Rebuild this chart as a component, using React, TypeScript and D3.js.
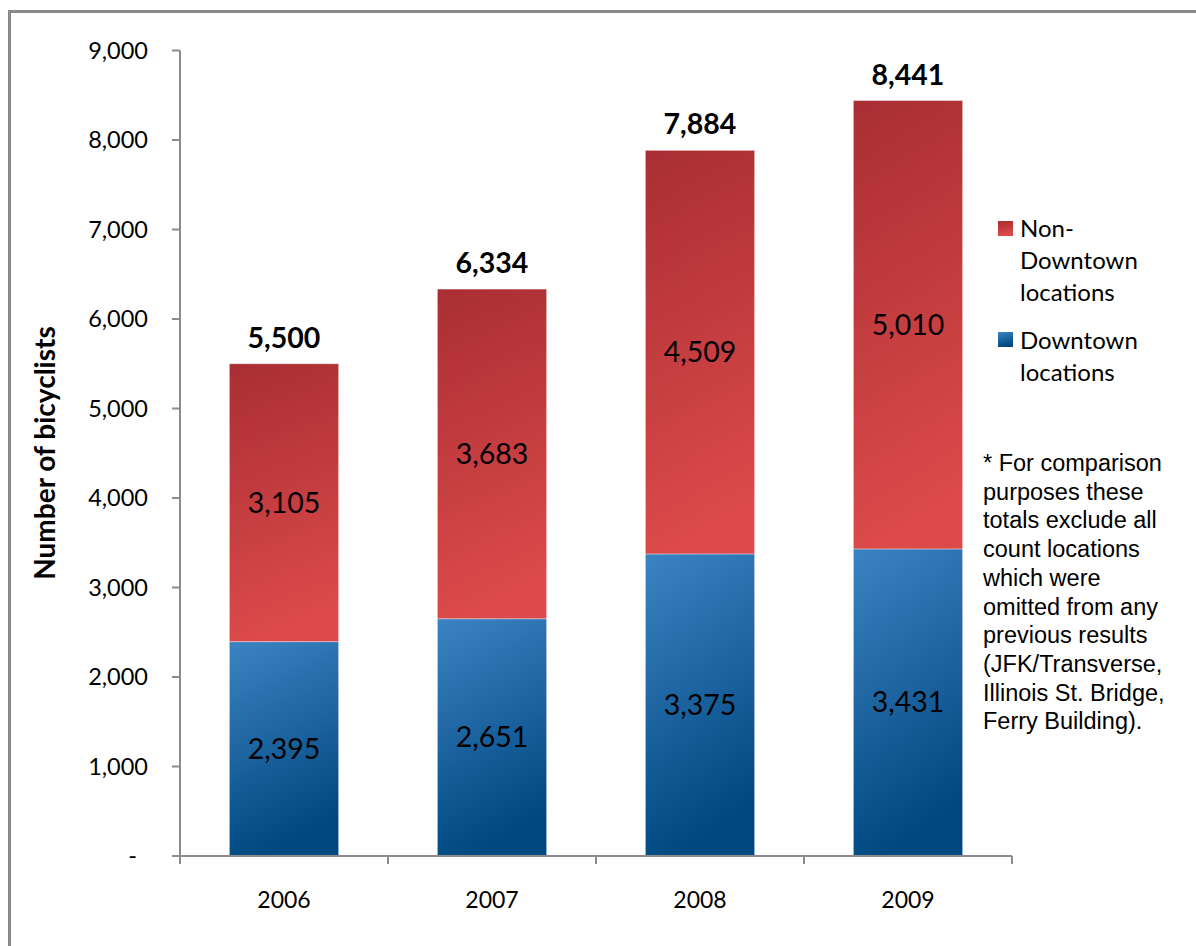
import React from "react";
import * as d3 from "d3";

const years = ["2006", "2007", "2008", "2009"];
const downtown = [2395, 2651, 3375, 3431];
const nonDowntown = [3105, 3683, 4509, 5010];
const totals = [5500, 6334, 7884, 8441];
const yTicks = [0, 1000, 2000, 3000, 4000, 5000, 6000, 7000, 8000, 9000];
const legendItems = [
  { key: "non", lines: ["Non-", "Downtown", "locations"] },
  { key: "down", lines: ["Downtown", "locations"] },
];
const noteLines = [
  "* For comparison",
  "purposes these",
  "totals exclude all",
  "count locations",
  "which were",
  "omitted from any",
  "previous results",
  "(JFK/Transverse,",
  "Illinois St. Bridge,",
  "Ferry Building).",
];

const W = 1196;
const H = 946;
const axisColor = "#8c8c8c";
const font = "Lato, 'Open Sans', sans-serif";

export default function App() {
  const x = d3.scaleBand<string>().domain(years).range([180, 1012]).paddingInner(0.475).paddingOuter(0.2375);
  const y = d3.scaleLinear().domain([0, 9000]).range([856, 50.5]);
  const fmt = d3.format(",");
  const bw = x.bandwidth();

  return (
    <svg width={W} height={H} style={{ position: "absolute", left: 0, top: 0, background: "#fff" }}>
      <defs>
        <linearGradient id="redGrad" x1="0" y1="0" x2="0.15" y2="1">
          <stop offset="0" stopColor="#a92e33" />
          <stop offset="1" stopColor="#dc4a4b" />
        </linearGradient>
        <linearGradient id="blueGrad" x1="0" y1="0" x2="0.25" y2="1">
          <stop offset="0" stopColor="#3c83c3" />
          <stop offset="1" stopColor="#004880" />
        </linearGradient>
      </defs>
      <rect x={9.5} y={11.5} width={W + 20} height={H + 20} fill="none" stroke="#8a8a8a" strokeWidth={3} />

      {/* y axis */}
      <line x1={180} x2={180} y1={y(9000)} y2={y(0)} stroke={axisColor} strokeWidth={2} />
      {yTicks.map((t) => (
        <g key={t}>
          <line x1={172} x2={180} y1={y(t)} y2={y(t)} stroke={axisColor} strokeWidth={2} />
          <text
            x={t === 0 ? 137 : 148}
            y={y(t)}
            dy="0.35em"
            textAnchor="end"
            fontFamily={font}
            fontSize={23.5}
            fill="#000"
          >
            {t === 0 ? "-" : fmt(t)}
          </text>
        </g>
      ))}
      <text
        transform={`translate(55, ${453}) rotate(-90)`}
        textAnchor="middle"
        fontFamily={font}
        fontWeight="bold"
        fontSize={28}
        fill="#000"
      >
        Number of bicyclists
      </text>

      {/* bars */}
      {years.map((yr, i) => {
        const x0 = x(yr)!;
        const cx = x0 + bw / 2;
        const d = downtown[i];
        const n = nonDowntown[i];
        return (
          <g key={yr}>
            <rect x={x0} y={y(d)} width={bw} height={y(0) - y(d)} fill="url(#blueGrad)" stroke="rgba(255,255,255,0.35)" strokeWidth={1} />
            <rect x={x0} y={y(d + n)} width={bw} height={y(d) - y(d + n)} fill="url(#redGrad)" stroke="rgba(255,255,255,0.35)" strokeWidth={1} />
            <text x={cx} y={(y(0) + y(d)) / 2} dy="0.35em" textAnchor="middle" fontFamily={font} fontSize={28.5} fill="#000">
              {fmt(d)}
            </text>
            <text x={cx} y={(y(d) + y(d + n)) / 2} dy="0.35em" textAnchor="middle" fontFamily={font} fontSize={28.5} fill="#000">
              {fmt(n)}
            </text>
            <text x={cx} y={y(totals[i]) - 16} textAnchor="middle" fontFamily={font} fontWeight="bold" fontSize={28.5} fill="#000">
              {fmt(totals[i])}
            </text>
          </g>
        );
      })}

      {/* x axis */}
      <line x1={172} x2={1012} y1={856} y2={856} stroke={axisColor} strokeWidth={2} />
      {[0, 1, 2, 3, 4].map((k) => {
        const xx = 180 + k * (x.step());
        return <line key={k} x1={xx} x2={xx} y1={856} y2={864} stroke={axisColor} strokeWidth={2} />;
      })}
      {years.map((yr) => (
        <text key={yr} x={x(yr)! + bw / 2} y={900} dy="0.35em" textAnchor="middle" fontFamily={font} fontSize={23} fill="#000">
          {yr}
        </text>
      ))}

      {/* legend */}
      <rect x={998} y={221} width={15} height={15} fill="url(#redGrad)" />
      {legendItems[0].lines.map((l, j) => (
        <text key={l} x={1020} y={237 + j * 32} fontFamily={font} fontSize={24} fill="#000">
          {l}
        </text>
      ))}
      <rect x={998} y={332} width={15} height={15} fill="url(#blueGrad)" />
      {legendItems[1].lines.map((l, j) => (
        <text key={l} x={1020} y={349 + j * 32} fontFamily={font} fontSize={24} fill="#000">
          {l}
        </text>
      ))}

      {/* note */}
      {noteLines.map((l, j) => (
        <text key={l} x={983} y={471 + j * 28.7} fontFamily="'Liberation Sans', Arial, sans-serif" fontSize={23.5} fill="#000">
          {l}
        </text>
      ))}
    </svg>
  );
}
